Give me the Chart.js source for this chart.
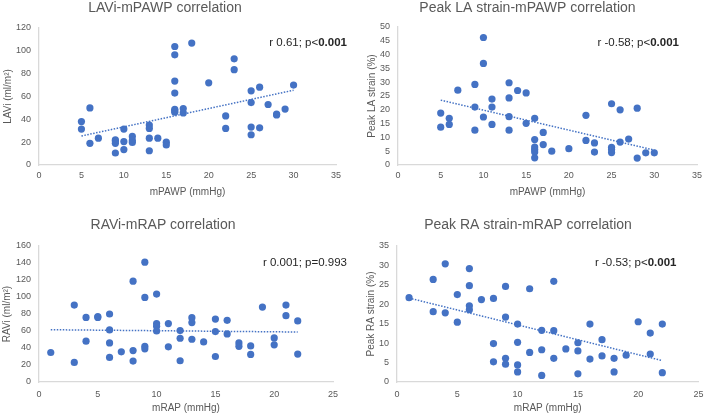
<!DOCTYPE html>
<html>
<head>
  <title>Atrial volume / strain vs pressure correlations</title>
  <style>
    html, body { margin: 0; padding: 0; background: #fff; overflow: hidden; }
    body { width: 708px; height: 416px; position: relative; }
    .panel { position: absolute; width: 354px; height: 208px; }
  </style>
  <script src="https://cdn.jsdelivr.net/npm/chart.js"></script>
</head>
<body>
  <div class="panel" style="left:-6px; top:0;"><canvas id="c1" width="354" height="208"></canvas></div>
  <div class="panel" style="left:358px; top:0;"><canvas id="c2" width="354" height="208"></canvas></div>
  <div class="panel" style="left:-7px; top:208px;"><canvas id="c3" width="354" height="208"></canvas></div>
  <div class="panel" style="left:357px; top:208px;"><canvas id="c4" width="354" height="208"></canvas></div>
  <script>
    // LAVi vs mPAWP
    const laviX = [5, 5, 6, 6, 7, 9, 9, 9, 9, 10, 10, 10, 11, 11, 11, 13, 13, 13, 13, 14, 15, 15,
                   16, 16, 16, 16, 16, 16, 16, 17, 17, 18, 20, 22, 22, 23, 23, 25, 25, 25, 25,
                   26, 26, 27, 28, 28, 29, 30];
    const laviY = [38, 31.5, 50, 19, 23.5, 22, 21, 19, 10.5, 31.5, 20.5, 13.5, 25, 21.5, 19.7, 35, 32, 23.5, 12.5, 23.5, 20, 17.6,
                   103.8, 96.5, 73.5, 63, 48.8, 47.6, 46.2, 49.4, 45.6, 106.8, 72, 43, 32, 93, 83.5, 65, 54.7, 33.2, 26.5,
                   68.2, 32.6, 53, 44.5, 43.8, 49, 70];
    const laviTrendX = [5, 30];
    const laviTrendY = [25.4, 65.5];

    // Peak LA strain vs mPAWP
    const laStrainX = [5, 5, 6, 6, 7, 9, 9, 9, 10, 10, 10, 11, 11, 11, 13, 13, 13, 13, 14, 15, 15,
                       16, 16, 16, 16, 16, 16, 17, 17, 18, 20, 22, 22, 23, 23, 25, 25, 25, 25,
                       26, 26, 27, 28, 28, 29, 30];
    const laStrainY = [18.8, 13.7, 16.9, 14.7, 27.1, 29.2, 21, 12.6, 46.2, 36.8, 17.4, 23.9, 21, 14.7, 29.8, 24.3, 17.5, 12.6, 27, 26.1, 15.1,
                       16.9, 9.2, 6.5, 5.6, 4.7, 2.6, 11.8, 7.4, 5, 5.9, 18, 8.9, 8, 4.7, 22.2, 6.4, 5.6, 4.5,
                       20, 8.3, 9.4, 20.6, 2.5, 4.4, 4.4];
    const laStrainTrendX = [5, 30];
    const laStrainTrendY = [23.5, 5.4];

    // RAVi vs mRAP
    const raviX = [1, 3, 3, 4, 4, 5, 5, 6, 6, 6, 6, 7, 8, 8, 8, 9, 9, 9, 9, 10, 10, 10, 10,
                   11, 11, 12, 12, 12, 13, 13, 13, 14, 15, 15, 15, 16, 16, 17, 17, 18, 18,
                   19, 20, 20, 21, 21, 22, 22];
    const raviY = [34.7, 90.5, 23, 76, 48, 76, 77, 80, 61.3, 46, 28.9, 35.5, 118.6, 37, 24.6, 141, 99.5, 42, 39, 103.4, 68.7, 65.6, 60,
                   68.7, 41.4, 60.5, 51.5, 25, 75.7, 69.9, 50.3, 47.2, 74, 59.3, 30, 72.6, 56.6, 46, 42, 42.5, 32.4,
                   88.2, 51.9, 43.7, 90.5, 78, 71.8, 32.8];
    const raviTrendX = [1, 22];
    const raviTrendY = [61.5, 58.8];

    // Peak RA strain vs mRAP
    const raStrainX = [1, 3, 3, 4, 4, 5, 5, 6, 6, 6, 6, 7, 8, 8, 8, 9, 9, 9, 9, 10, 10, 10, 10,
                       11, 11, 12, 12, 12, 13, 13, 13, 14, 15, 15, 15, 16, 16, 17, 17, 18, 18,
                       19, 20, 21, 21, 22, 22];
    const raStrainY = [21.7, 26.4, 18.1, 30.4, 17.8, 22.5, 15.4, 29.2, 24.8, 19.6, 18.6, 21.2, 21.5, 9.9, 5.2, 24.6, 16.7, 6.1, 4.6, 14.9, 10.2, 4.4, 2.6,
                       24, 7.6, 13.3, 8.3, 1.7, 25.9, 13.2, 6.1, 8.5, 10.1, 8, 2.1, 14.9, 5.9, 10.9, 6.7, 6.1, 2.6,
                       6.9, 15.5, 12.6, 7.2, 14.9, 2.4];
    const raStrainTrendX = [1, 22];
    const raStrainTrendY = [21.6, 5.5];

    const BLUE = '#4472C4';
    const GREY = '#595959';
    const FONT = "'Liberation Sans', Arial, sans-serif";

    function pts(xs, ys) {
      return xs.map((x, i) => ({x: x, y: ys[i]}));
    }

    // draws the "r ...; p..." note, with an optional bold part
    const corrNote = {
      id: 'corrNote',
      afterDraw(chart, args, opts) {
        if (!opts.parts) return;
        const ctx = chart.ctx;
        const area = chart.chartArea;
        ctx.save();
        ctx.textBaseline = 'middle';
        ctx.fillStyle = '#262626';
        let widths = opts.parts.map(p => {
          ctx.font = (p.bold ? 'bold ' : '') + '11.5px ' + FONT;
          return ctx.measureText(p.text).width;
        });
        let total = widths.reduce((a, b) => a + b, 0);
        let x = area.right + opts.dx - total;
        let y = area.top + opts.dy;
        opts.parts.forEach((p, i) => {
          ctx.font = (p.bold ? 'bold ' : '') + '11.5px ' + FONT;
          ctx.textAlign = 'left';
          ctx.fillText(p.text, x, y);
          x += widths[i];
        });
        ctx.restore();
      }
    };

    function makeChart(id, cfg) {
      const ctx = document.getElementById(id).getContext('2d');
      return new Chart(ctx, {
        type: 'scatter',
        data: {
          datasets: [
            {
              type: 'line',
              data: pts(cfg.trendX, cfg.trendY),
              borderColor: BLUE,
              borderWidth: 1.5,
              borderDash: [1.5, 1.5],
              pointRadius: 0,
              fill: false
            },
            {
              data: pts(cfg.x, cfg.y),
              backgroundColor: BLUE,
              borderColor: BLUE,
              borderWidth: 0,
              pointRadius: 3.6
            }
          ]
        },
        options: {
          responsive: false,
          animation: false,
          layout: { padding: { left: 0, right: cfg.padRight, top: 0, bottom: 0 } },
          plugins: {
            legend: { display: false },
            tooltip: { enabled: false },
            title: {
              display: true,
              text: cfg.title,
              color: GREY,
              font: { family: FONT, size: 14, weight: 'normal' },
              padding: { top: cfg.titleTop, bottom: cfg.titleBottom }
            },
            corrNote: cfg.note
          },
          scales: {
            x: {
              type: 'linear',
              min: 0,
              max: cfg.xMax,
              ticks: { stepSize: 5, color: GREY, font: { family: FONT, size: 9 }, padding: cfg.xTickPad },
              grid: { display: false, drawTicks: false },
              border: { display: true, color: '#d9d9d9', width: 1.3 },
              title: { display: true, text: cfg.xTitle, color: GREY, font: { family: FONT, size: 10 },
                       padding: { top: 0, bottom: cfg.xTitlePad } },
              afterFit(scale) { scale.height = cfg.xHeight; }
            },
            y: {
              type: 'linear',
              min: 0,
              max: cfg.yMax,
              ticks: { stepSize: cfg.yStep, color: GREY, font: { family: FONT, size: 9 }, padding: 8 },
              grid: { display: false, drawTicks: false },
              border: { display: true, color: '#d9d9d9', width: 1.3 },
              title: { display: true, text: cfg.yTitle, color: GREY, font: { family: FONT, size: 10 },
                       padding: { top: 8, bottom: 0 } },
              afterFit(scale) { scale.width = cfg.yWidth; }
            }
          }
        },
        plugins: [corrNote]
      });
    }

    makeChart('c1', {
      title: 'LAVi-mPAWP correlation', xTitle: 'mPAWP (mmHg)', yTitle: 'LAVi (ml/m²)',
      x: laviX, y: laviY, trendX: laviTrendX, trendY: laviTrendY,
      xMax: 35, yMax: 120, yStep: 20,
      yWidth: 45, padRight: 12, xHeight: 43, titleTop: 0, titleBottom: 11.2,
      xTickPad: 5, xTitlePad: 10,
      note: { parts: [{text: 'r 0.61; p<'}, {text: '0.001', bold: true}], dx: 11, dy: 15 }
    });

    makeChart('c2', {
      title: 'Peak LA strain-mPAWP correlation', xTitle: 'mPAWP (mmHg)', yTitle: 'Peak LA strain (%)',
      x: laStrainX, y: laStrainY, trendX: laStrainTrendX, trendY: laStrainTrendY,
      xMax: 35, yMax: 50, yStep: 5,
      yWidth: 40, padRight: 15, xHeight: 43, titleTop: 0, titleBottom: 10.2,
      xTickPad: 5, xTitlePad: 10,
      note: { parts: [{text: 'r -0.58; p<'}, {text: '0.001', bold: true}], dx: -18, dy: 16 }
    });

    makeChart('c3', {
      title: 'RAVi-mRAP correlation', xTitle: 'mRAP (mmHg)', yTitle: 'RAVi (ml/m²)',
      x: raviX, y: raviY, trendX: raviTrendX, trendY: raviTrendY,
      xMax: 25, yMax: 160, yStep: 20,
      yWidth: 46, padRight: 14, xHeight: 34, titleTop: 8.6, titleBottom: 12.6,
      xTickPad: 7.5, xTitlePad: 2,
      note: { parts: [{text: 'r 0.001; p=0.993'}], dx: 14, dy: 17 }
    });

    makeChart('c4', {
      title: 'Peak RA strain-mRAP correlation', xTitle: 'mRAP (mmHg)', yTitle: 'Peak RA strain (%)',
      x: raStrainX, y: raStrainY, trendX: raStrainTrendX, trendY: raStrainTrendY,
      xMax: 25, yMax: 35, yStep: 5,
      yWidth: 40, padRight: 12, xHeight: 34, titleTop: 8.6, titleBottom: 12.6,
      xTickPad: 7.5, xTitlePad: 2,
      note: { parts: [{text: 'r -0.53; p<'}, {text: '0.001', bold: true}], dx: -22, dy: 17 }
    });
  </script>
</body>
</html>
